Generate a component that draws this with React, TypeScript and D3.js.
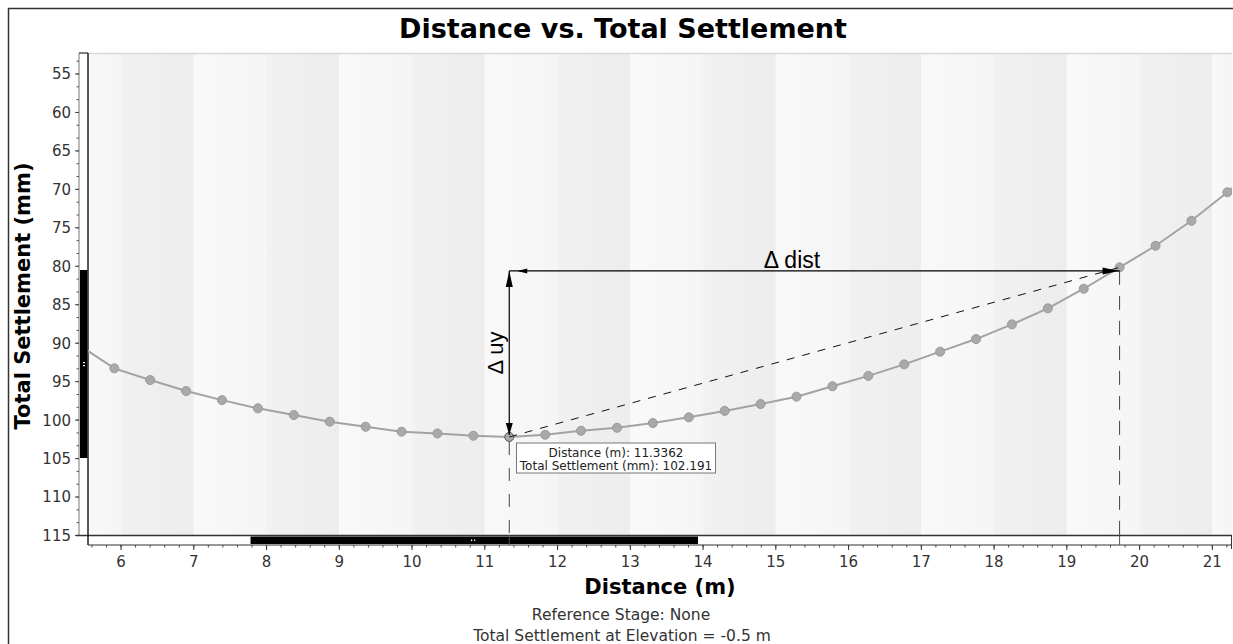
import { useEffect } from 'react';
import * as d3 from 'd3';

// Distance (m) of each point along the section, including one just outside each edge
const distances = [
  5.414, 5.908, 6.401, 6.895, 7.388, 7.882, 8.375, 8.869, 9.362, 9.856, 10.349, 10.843,
  11.336, 11.83, 12.323, 12.817, 13.31, 13.804, 14.297, 14.791, 15.284, 15.778, 16.271,
  16.765, 17.258, 17.752, 18.245, 18.739, 19.232, 19.725, 20.219, 20.712, 21.206, 21.699,
];
// Total settlement (mm) at each distance
const settlements = [
  90.2, 93.27, 94.79, 96.22, 97.4, 98.47, 99.34, 100.2, 100.86, 101.5, 101.73, 102.03,
  102.191, 101.9, 101.38, 100.99, 100.38, 99.64, 98.8, 97.91, 96.95, 95.6, 94.25,
  92.75, 91.1, 89.46, 87.55, 85.47, 82.92, 80.14, 77.33, 74.08, 70.38, 66.3,
];

const xTicks = [6, 7, 8, 9, 10, 11, 12, 13, 14, 15, 16, 17, 18, 19, 20, 21];
const yTicks = [55, 60, 65, 70, 75, 80, 85, 90, 95, 100, 105, 110, 115];

const selected = { distance: 11.3362, settlement: 102.191 };
const target = { distance: 19.725, settlement: 80.14 };
const arrowLevel = 80.6;

const W = 1233;
const H = 644;
const plot = { left: 88, right: 1232, top: 53, bottom: 535.5, axis: 545 };
const tickFont = "'DejaVu Sans', Verdana, sans-serif";

const App = () => {
  useEffect(() => {
    document.body.style.margin = '0';
  }, []);

  const x = d3.scaleLinear().domain([5.546, 21.27]).range([plot.left, plot.right]);
  const y = d3.scaleLinear().domain([52.27, 115]).range([plot.top, plot.bottom]);

  const points = distances.map((d, i) => ({ d, s: settlements[i] }));
  const line = d3.line<{ d: number; s: number }>().x(p => x(p.d)).y(p => y(p.s));

  // alternating background bands, one per metre
  const bands = d3.range(5, 22).map(v => ({
    x0: Math.max(x(v), plot.left),
    x1: Math.min(x(v + 1), plot.right),
    dark: v % 2 === 0,
  }));

  const xMinor = d3.range(5.6, 21.27, 0.2);
  const yMinor = d3.range(53 + 1 / 3, 115, 5 / 3);

  const sx = x(selected.distance);
  const sy = y(selected.settlement);
  const tx = x(target.distance);
  const ty = y(target.settlement);
  const ay = y(arrowLevel);

  return (
    <svg width={W} height={H} style={{ position: 'absolute', left: 0, top: 0, background: '#fff' }}>
      <defs>
        <clipPath id="plotClip">
          <rect x={plot.left} y={plot.top} width={plot.right - plot.left} height={plot.bottom - plot.top} />
        </clipPath>
        <linearGradient id="bandLight" x1="0" x2="1" y1="0" y2="0">
          <stop offset="0" stopColor="#f9f9f9" />
          <stop offset="1" stopColor="#f5f5f5" />
        </linearGradient>
        <linearGradient id="bandDark" x1="0" x2="1" y1="0" y2="0">
          <stop offset="0" stopColor="#f1f1f1" />
          <stop offset="1" stopColor="#ededed" />
        </linearGradient>
      </defs>

      {/* outer frame */}
      <rect x={8.5} y={8.5} width={1240} height={700} fill="#fff" stroke="#333" strokeWidth={1.5} />

      <text x={623} y={38} textAnchor="middle" fontFamily="'DejaVu Sans', Verdana, sans-serif"
        fontWeight="bold" fontSize={27} fill="#000">Distance vs. Total Settlement</text>

      {/* plot background */}
      {bands.map((b, i) => (
        <rect key={i} x={b.x0} y={plot.top} width={Math.max(0, b.x1 - b.x0)} height={plot.bottom - plot.top}
          fill={b.dark ? 'url(#bandDark)' : 'url(#bandLight)'} />
      ))}
      <line x1={plot.left} x2={plot.right} y1={plot.top + 0.5} y2={plot.top + 0.5} stroke="#d8d8d8" strokeWidth={1.5} />

      {/* y axis */}
      <rect x={79} y={plot.top} width={plot.left - 79} height={plot.bottom - plot.top} fill="#fff" />
      <line x1={79} x2={79} y1={plot.top} y2={plot.bottom} stroke="#777" strokeWidth={1} />
      <line x1={79} x2={plot.left} y1={plot.top} y2={plot.top} stroke="#555" strokeWidth={1.5} />
      {yMinor.map((v, i) => (
        <line key={i} x1={76.5} x2={79} y1={y(v)} y2={y(v)} stroke="#555" strokeWidth={1} />
      ))}
      {yTicks.map(v => (
        <g key={v}>
          <line x1={75} x2={79} y1={y(v)} y2={y(v)} stroke="#444" strokeWidth={1} />
          <text x={71} y={y(v)} dy="0.36em" textAnchor="end" fontFamily={tickFont} fontSize={15} fill="#333">{v}</text>
        </g>
      ))}
      {/* vertical scrollbar thumb */}
      <rect x={80} y={270} width={7.5} height={188} fill="#000" />
      <rect x={83} y={362} width={2} height={1.2} fill="#fff" />
      <rect x={83} y={365} width={2} height={1.2} fill="#fff" />

      <text transform="translate(30,296) rotate(-90)" textAnchor="middle" fontFamily="'DejaVu Sans', Verdana, sans-serif"
        fontWeight="bold" fontSize={21} fill="#000">Total Settlement (mm)</text>

      {/* x axis with scrollbar */}
      <rect x={plot.left} y={plot.bottom} width={plot.right - plot.left} height={plot.axis - plot.bottom} fill="#fff" />
      <rect x={x(7.78)} y={536.5} width={x(13.93) - x(7.78)} height={7.5} fill="#000" />
      <rect x={471} y={539.5} width={1.2} height={1.5} fill="#fff" />
      <rect x={474} y={539.5} width={1.2} height={1.5} fill="#fff" />
      <line x1={76} x2={plot.right} y1={plot.bottom} y2={plot.bottom} stroke="#333" strokeWidth={1.5} />
      <line x1={plot.left} x2={plot.right} y1={plot.axis} y2={plot.axis} stroke="#333" strokeWidth={1.2} />
      <line x1={plot.right - 0.5} x2={plot.right - 0.5} y1={plot.bottom} y2={plot.axis + 4} stroke="#333" strokeWidth={1} />
      {xMinor.map((v, i) => (
        <line key={i} x1={x(v)} x2={x(v)} y1={plot.axis} y2={plot.axis + 2.5} stroke="#444" strokeWidth={1} />
      ))}
      {xTicks.map(v => (
        <g key={v}>
          <line x1={x(v)} x2={x(v)} y1={plot.axis} y2={plot.axis + 5} stroke="#333" strokeWidth={1} />
          <text x={x(v)} y={567} textAnchor="middle" fontFamily={tickFont} fontSize={15} fill="#333">{v}</text>
        </g>
      ))}
      <line x1={plot.left} x2={plot.left} y1={plot.top} y2={plot.axis} stroke="#222" strokeWidth={1.5} />

      <text x={660} y={594} textAnchor="middle" fontFamily="'DejaVu Sans', Verdana, sans-serif"
        fontWeight="bold" fontSize={21} fill="#000">Distance (m)</text>
      <text x={621} y={620} textAnchor="middle" fontFamily={tickFont} fontSize={15.5} fill="#333">Reference Stage: None</text>
      <text x={622} y={640.5} textAnchor="middle" fontFamily={tickFont} fontSize={15.5} fill="#333">Total Settlement at Elevation = -0.5 m</text>

      {/* series */}
      <g clipPath="url(#plotClip)">
        <path d={line(points) ?? ''} fill="none" stroke="#a3a3a3" strokeWidth={2} />
        {points.map((p, i) => (
          <circle key={i} cx={x(p.d)} cy={y(p.s)} r={4.5}
            fill="#a9a9a9" stroke={Math.abs(p.d - selected.distance) < 0.01 ? '#555' : '#999'} strokeWidth={1} />
        ))}
      </g>

      {/* annotations */}
      <line x1={sx} x2={tx} y1={sy} y2={ty} stroke="#111" strokeWidth={1} strokeDasharray="8,8" />
      <line x1={sx} x2={sx} y1={sy + 5} y2={plot.bottom} stroke="#444" strokeWidth={1} strokeDasharray="13,13" />
      <line x1={tx} x2={tx} y1={ay} y2={plot.bottom} stroke="#444" strokeWidth={1} strokeDasharray="14,11" />
      <line x1={sx} x2={sx} y1={plot.bottom} y2={plot.axis} stroke="#555" strokeWidth={1} />
      <line x1={tx} x2={tx} y1={plot.bottom} y2={plot.axis} stroke="#555" strokeWidth={1} />

      <line x1={sx} x2={sx} y1={ay} y2={sy - 2} stroke="#000" strokeWidth={1.2} />
      <path d={`M${sx},${ay} L${sx - 3.5},${ay + 16} L${sx + 3.5},${ay + 16} Z`} fill="#000" />
      <path d={`M${sx},${sy - 2} L${sx - 3.5},${sy - 14} L${sx + 3.5},${sy - 14} Z`} fill="#000" />
      <line x1={sx} x2={tx} y1={ay} y2={ay} stroke="#000" strokeWidth={1.2} />
      <path d={`M${sx + 8},${ay} L${sx + 18},${ay - 2.5} L${sx + 18},${ay + 2.5} Z`} fill="#000" />
      <path d={`M${tx - 1},${ay} L${tx - 17},${ay - 3.5} L${tx - 17},${ay + 3.5} Z`} fill="#000" />

      <text x={792} y={268} textAnchor="middle" fontFamily="'Liberation Sans', Arial, sans-serif" fontSize={23} fill="#000">Δ dist</text>
      <text transform={`translate(${sx - 6},353) rotate(-90)`} textAnchor="middle"
        fontFamily="'Liberation Sans', Arial, sans-serif" fontSize={22} fill="#000">Δ uy</text>

      {/* tooltip */}
      <rect x={516.5} y={443} width={199} height={30} fill="#fff" stroke="#777" strokeWidth={1} />
      <text x={616} y={456.5} textAnchor="middle" fontFamily={tickFont} fontSize={12} fill="#222">Distance (m): 11.3362</text>
      <text x={616} y={469.5} textAnchor="middle" fontFamily={tickFont} fontSize={12} fill="#222">Total Settlement (mm): 102.191</text>
    </svg>
  );
};

export default App;
